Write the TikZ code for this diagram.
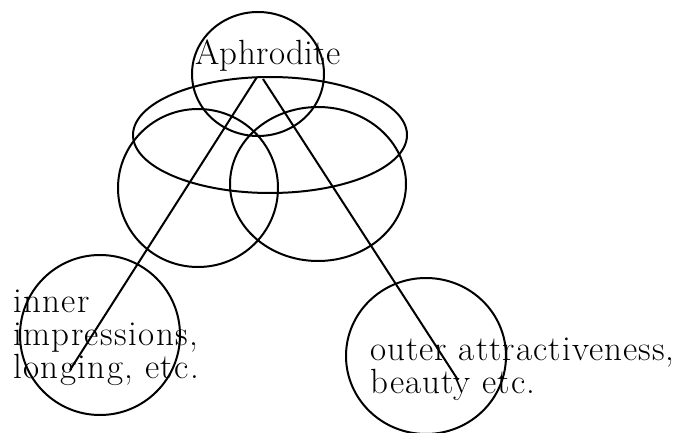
\documentclass[tikz,border=0pt]{standalone}
\usepackage{fontspec}
\setmainfont{Latin Modern Roman}
\newfontfamily\spacedfont[LetterSpace=4]{Latin Modern Roman}
\newfontfamily\outerfont[LetterSpace=3]{Latin Modern Roman}
\newfontfamily\titlefont[LetterSpace=1]{Latin Modern Roman}
\begin{document}
\begin{tikzpicture}[x=1pt,y=-1pt,
  shape line/.style={line width=2pt},
  lbl/.style={font=\spacedfont\fontsize{35}{33}\selectfont, inner sep=0pt, align=left, anchor=base west},
  olbl/.style={font=\outerfont\fontsize{35}{33}\selectfont, inner sep=0pt, align=left, anchor=base west},
  ttl/.style={font=\titlefont\fontsize{35}{33}\selectfont, inner sep=0pt, anchor=base west}]
\useasboundingbox (0,0) rectangle (677,433);
% ellipses and circles
\draw[shape line] (258,74) ellipse [x radius=66, y radius=62];
\draw[shape line] (270,135) ellipse [x radius=137, y radius=58];
\draw[shape line] (198,188) ellipse [x radius=80, y radius=79];
\draw[shape line] (318,184) ellipse [x radius=88, y radius=77];
\draw[shape line] (100,335) ellipse [x radius=80, y radius=80];
\draw[shape line] (426,356) ellipse [x radius=80, y radius=78];
% texts
\node[ttl] (aph) at (195,65) {Aphrodite};
\node[lbl] (inner) at (13,378) {inner\\impressions,\\longing, etc.};
\node[olbl] (outer) at (370,393) {outer attractiveness,\\beauty etc.};
% connectors
\coordinate (l1) at (257,77);
\coordinate (l2) at (70,370);
\coordinate (r1) at (263,79);
\coordinate (r2) at (458,380);
\draw[shape line] (l1) -- (l2);
\draw[shape line] (r1) -- (r2);
\end{tikzpicture}
\end{document}
